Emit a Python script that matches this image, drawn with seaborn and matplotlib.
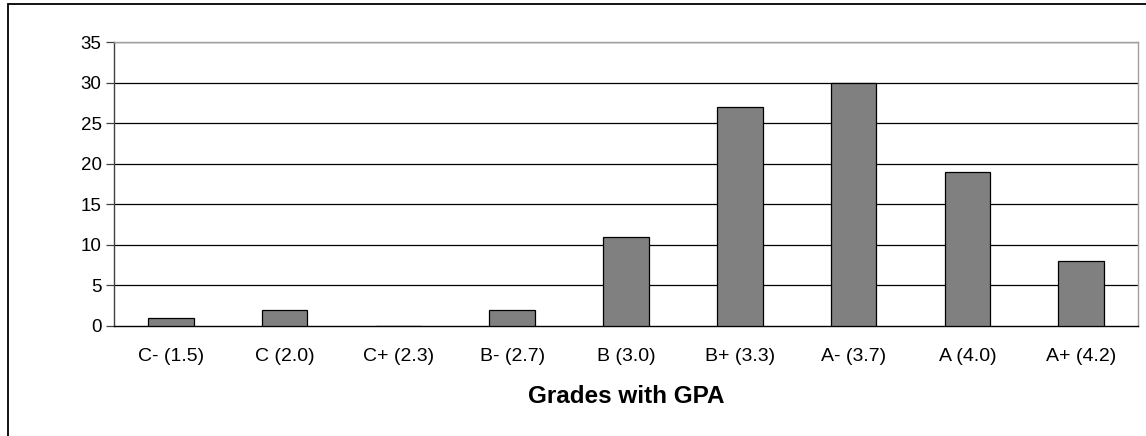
import matplotlib
matplotlib.use("Agg")
import matplotlib.pyplot as plt
import seaborn as sns
import pandas as pd
from matplotlib.patches import Rectangle

grades = ["C- (1.5)", "C (2.0)", "C+ (2.3)", "B- (2.7)", "B (3.0)",
          "B+ (3.3)", "A- (3.7)", "A (4.0)", "A+ (4.2)"]
counts = [1, 2, 0, 2, 11, 27, 30, 19, 8]
y_ticks = [0, 5, 10, 15, 20, 25, 30, 35]

sns.set_theme(style="white")
plt.rcParams["font.family"] = ["Liberation Sans", "DejaVu Sans"]

df = pd.DataFrame({"grade": grades, "count": counts})

fig = plt.figure(figsize=(11.46, 4.36), dpi=100)
ax = fig.add_axes([114 / 1146, 1 - 326 / 436, 1024 / 1146, 284 / 436])

sns.barplot(data=df, x="grade", y="count", color="#808080", saturation=1,
            width=0.4, edgecolor="black", linewidth=0.9, ax=ax, zorder=3)

ax.set_ylim(0, 35)
ax.set_xlim(-0.5, len(grades) - 0.5)
ax.set_yticks(y_ticks)
for v in y_ticks[1:]:
    ax.axhline(v, color="black", linewidth=0.9, zorder=1)

ax.tick_params(axis="y", which="both", left=True, length=6, width=0.9,
               color="#404040", labelsize=13.5, pad=3, labelcolor="black")
ax.tick_params(axis="x", bottom=False, labelsize=14, pad=10, labelcolor="black")

for side in ["top", "right"]:
    ax.spines[side].set_visible(True)
    ax.spines[side].set_color("#a0a0a0")
    ax.spines[side].set_linewidth(1.0)
ax.spines["left"].set_color("#404040")
ax.spines["left"].set_linewidth(1.0)
ax.spines["bottom"].set_color("black")
ax.spines["bottom"].set_linewidth(1.0)

ax.set_ylabel("")
ax.set_xlabel("Grades with GPA", fontsize=17.5, fontweight="bold",
              color="black", labelpad=14)

# outer chart frame
fig.patches.append(Rectangle((8 / 1146, -0.5), 2, 1.5 - 4.5 / 436,
                             transform=fig.transFigure, fill=False,
                             edgecolor="black", linewidth=1.3))

fig.savefig("out.png", dpi=100, facecolor="white")
